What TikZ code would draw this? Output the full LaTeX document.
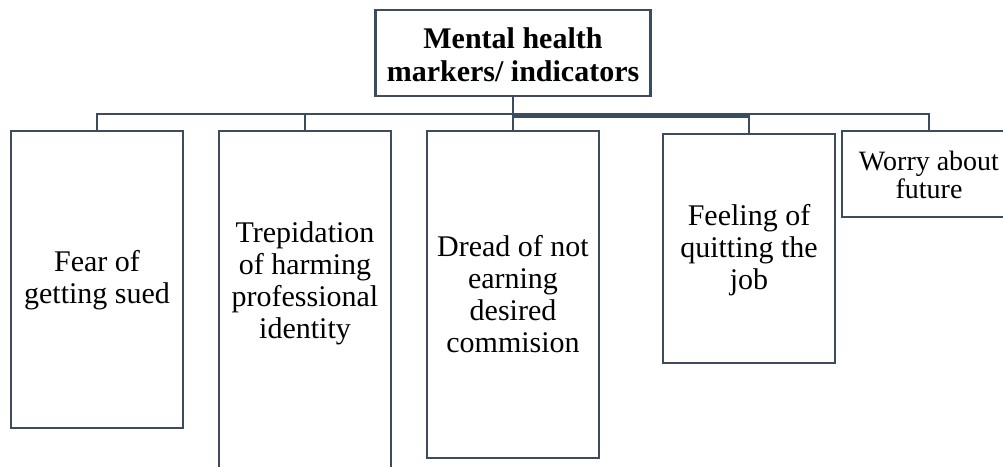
\documentclass[tikz,border=0pt]{standalone}
\usepackage{fontspec}
\setmainfont{Liberation Serif}
\definecolor{lineclr}{HTML}{3D4B5E}
\begin{document}
\begin{tikzpicture}[x=0.75pt,y=-0.75pt,
  box/.style={draw=lineclr, line width=1.9pt, fill=white, inner sep=0pt, rectangle},
  txt/.style={align=center, inner sep=0pt, font=\fontsize{22.5pt}{24pt}\selectfont},
  smalltxt/.style={align=center, inner sep=0pt, font=\fontsize{21pt}{20.5pt}\selectfont},
  conn/.style={draw=lineclr, line width=1.9pt}]
\useasboundingbox (0,0) rectangle (1003,467);
\clip (0,0) rectangle (1003,467);
% connectors
\coordinate (hub) at (513,114);
\coordinate (hubb) at (513,116.5);
\node[box, minimum width=275*0.75pt, minimum height=86*0.75pt] (top) at (513,53) {};
\node[box, minimum width=172*0.75pt, minimum height=297*0.75pt] (b1) at (97,279.5) {};
\node[box, minimum width=172*0.75pt, minimum height=359*0.75pt] (b2) at (305,310.5) {};
\node[box, minimum width=172*0.75pt, minimum height=327*0.75pt] (b3) at (513,294.5) {};
\node[box, minimum width=172*0.75pt, minimum height=229*0.75pt] (b4) at (749,248.5) {};
\node[box, minimum width=174*0.75pt, minimum height=86*0.75pt] (b5) at (929,174) {};
\draw[conn] (top.south) -- (b3.north);
\draw[conn] (hub) -| (b1.north);
\draw[conn] (hub) -| (b2.north);
\draw[conn] (hubb) -| (b4.north);
\draw[conn] (hub) -| (b5.north);
% texts
\node[txt, font=\bfseries\fontsize{22.5pt}{24.5pt}\selectfont] (ttop) at (513,55) {Mental health\\markers/ indicators};
\node[txt] (t1) at (97,280) {Fear of\\getting sued};
\node[txt] (t2) at (305,283) {Trepidation\\of harming\\professional\\identity};
\node[txt] (t3) at (513,294) {Dread of not\\earning\\desired\\commision};
\node[txt] (t4) at (749,250) {Feeling of\\quitting the\\job};
\node[smalltxt] (t5) at (929,175) {Worry about\\future};
\end{tikzpicture}
\end{document}
